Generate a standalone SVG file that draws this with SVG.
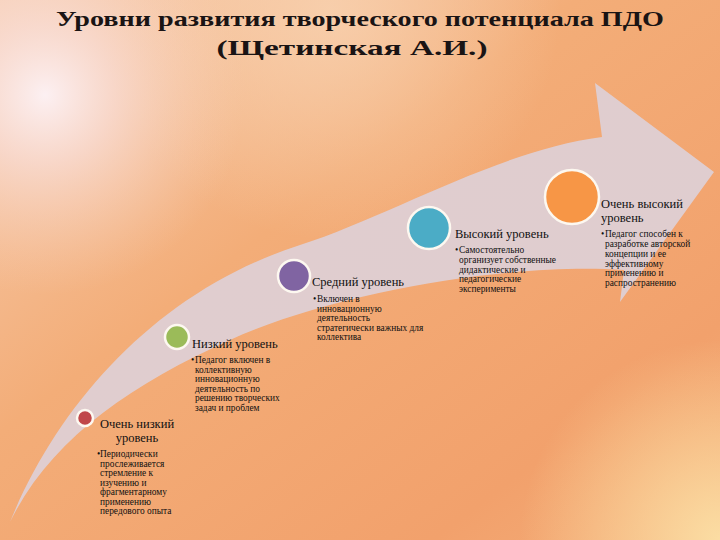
<svg xmlns="http://www.w3.org/2000/svg" width="720" height="540" viewBox="0 0 720 540">
<defs>
<linearGradient id="bg" x1="0" y1="0" x2="1" y2="1">
<stop offset="0" stop-color="#f7cdb0"/>
<stop offset="0.4" stop-color="#f3ad78"/>
<stop offset="0.8" stop-color="#f2a16c"/>
<stop offset="1" stop-color="#f4ad78"/>
</linearGradient>
<radialGradient id="glow1" cx="45" cy="95" r="200" gradientUnits="userSpaceOnUse">
<stop offset="0" stop-color="#fcf0f2" stop-opacity="1"/>
<stop offset="0.35" stop-color="#f9e0dc" stop-opacity="0.7"/>
<stop offset="1" stop-color="#f7d0b8" stop-opacity="0"/>
</radialGradient>
<radialGradient id="glow2" cx="720" cy="540" r="200" gradientUnits="userSpaceOnUse">
<stop offset="0" stop-color="#fbdda3" stop-opacity="1"/>
<stop offset="1" stop-color="#fbdda3" stop-opacity="0"/>
</radialGradient>
<radialGradient id="glow3" cx="330" cy="10" r="230" gradientUnits="userSpaceOnUse">
<stop offset="0" stop-color="#f8d3b2" stop-opacity="0.8"/>
<stop offset="1" stop-color="#f8d3b2" stop-opacity="0"/>
</radialGradient>
<style>
.h{font-family:"Liberation Serif","DejaVu Serif","Times New Roman",serif;font-size:12.5px;fill:#111}
.b{font-family:"Liberation Serif","DejaVu Serif","Times New Roman",serif;font-size:9.4px;fill:#111}
.t{font-family:"Liberation Serif","DejaVu Serif","Times New Roman",serif;font-size:22px;font-weight:bold;fill:#1a1414}
.dot{stroke:#fdf8f0;stroke-width:2.5}
</style>
</defs>
<rect width="720" height="540" fill="url(#bg)"/>
<rect width="720" height="540" fill="url(#glow3)"/>
<rect width="720" height="540" fill="url(#glow1)"/>
<rect width="720" height="540" fill="url(#glow2)"/>

<g id="title">
<text class="t" x="360" y="26" text-anchor="middle" textLength="608" lengthAdjust="spacingAndGlyphs">Уровни развития творческого потенциала ПДО</text>
<text class="t" x="352" y="55" text-anchor="middle" textLength="271" lengthAdjust="spacingAndGlyphs">(Щетинская А.И.)</text>
</g>

<g id="connectors">
<path id="arrow" d="M10,522 C60,400 160,290 300,245 C390,216 500,150 602,137 L595,83 L714,172 L620,302 L624,270 C520,262 340,290 230,340 C130,385 50,440 10,522 Z" fill="#ded0d6" fill-opacity="0.93"/>
</g>

<g id="node-very-low">
<circle class="dot" cx="85" cy="418" r="8" fill="#c0474a"/>
<text class="h" x="137" y="428" text-anchor="middle">Очень низкий</text>
<text class="h" x="137" y="442" text-anchor="middle">уровень</text>
<text class="b" x="97" y="457">•<tspan x="100">Периодически</tspan></text>
<text class="b" x="100" y="466.5">прослеживается</text>
<text class="b" x="100" y="476">стремление  к</text>
<text class="b" x="100" y="485.5">изучению и</text>
<text class="b" x="100" y="495">фрагментарному</text>
<text class="b" x="100" y="504.5">применению</text>
<text class="b" x="100" y="514">передового опыта</text>
</g>

<g id="node-low">
<circle class="dot" cx="177" cy="337" r="12" fill="#9bbb59"/>
<text class="h" x="192" y="348">Низкий уровень</text>
<text class="b" x="191" y="363">•<tspan x="195">Педагог включен в</tspan></text>
<text class="b" x="195" y="372.5">коллективную</text>
<text class="b" x="195" y="382">инновационную</text>
<text class="b" x="195" y="391.5">деятельность по</text>
<text class="b" x="195" y="401">решению творческих</text>
<text class="b" x="195" y="410.5">задач и проблем</text>
</g>

<g id="node-medium">
<circle class="dot" cx="294" cy="276" r="16" fill="#8064a2"/>
<text class="h" x="312" y="286">Средний уровень</text>
<text class="b" x="313" y="302">•<tspan x="317">Включен в</tspan></text>
<text class="b" x="317" y="311.5">инновационную</text>
<text class="b" x="317" y="321">деятельность</text>
<text class="b" x="317" y="330.5">стратегически важных для</text>
<text class="b" x="317" y="340">коллектива</text>
</g>

<g id="node-high">
<circle class="dot" cx="429" cy="228" r="21" fill="#4bacc6"/>
<text class="h" x="455" y="238">Высокий уровень</text>
<text class="b" x="455" y="253">•<tspan x="459">Самостоятельно</tspan></text>
<text class="b" x="459" y="263">организует собственные</text>
<text class="b" x="459" y="272.5">дидактические и</text>
<text class="b" x="459" y="282">педагогические</text>
<text class="b" x="459" y="291.5">эксперименты</text>
</g>

<g id="node-very-high">
<circle class="dot" cx="572" cy="197" r="27" fill="#f79646"/>
<text class="h" x="601" y="208">Очень высокий</text>
<text class="h" x="601" y="222">уровень</text>
<text class="b" x="601" y="237">•<tspan x="605">Педагог способен к</tspan></text>
<text class="b" x="605" y="247">разработке авторской</text>
<text class="b" x="605" y="257">концепции и ее</text>
<text class="b" x="605" y="266.5">эффективному</text>
<text class="b" x="605" y="276">применению и</text>
<text class="b" x="605" y="286">распространению</text>
</g>
</svg>
